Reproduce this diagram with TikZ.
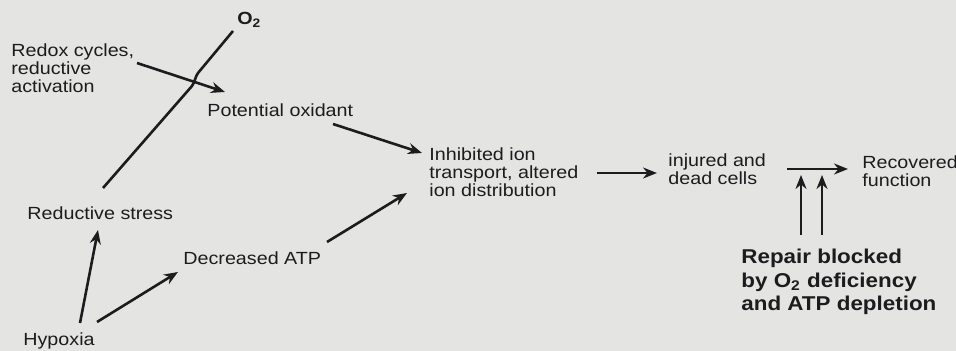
\documentclass[tikz,border=0pt]{standalone}
\usepackage{fontspec}
\setmainfont{Liberation Sans}[FakeStretch=1.12]
\usetikzlibrary{calc,arrows.meta}
\definecolor{paper}{RGB}{228,229,227}
\definecolor{ink}{RGB}{28,28,30}

\begin{document}
\begin{tikzpicture}[x=0.5pt,y=-0.5pt]
\tikzstyle{every node}=[inner sep=0pt,anchor=base west,align=left,text=ink,font=\fontsize{8.8}{9}\selectfont];
\tikzstyle{arr}=[draw=ink,line width=1.3pt,-{Stealth[length=7pt,width=5.5pt]}];
\fill[paper] (0,0) rectangle (956,351);
\useasboundingbox (0,0) rectangle (956,351);
% text (base = last line)
\node (o2) at (237,25) {\textbf{O\textsubscript{2}}};
\node (redox) at (11,93) {Redox cycles,\\reductive\\activation};
\node (pot) at (207,117) {Potential oxidant};
\node (inh) at (429,197) {Inhibited ion\\transport, altered\\ion distribution};
\node (inj) at (668,185) {injured and\\dead cells};
\node (rec) at (862,187) {Recovered\\function};
\node (red) at (27,220) {Reductive stress};
\node (dec) at (183,265) {Decreased ATP};
\node (hyp) at (23,346) {Hypoxia};
\node[font=\fontsize{10}{11.75}\selectfont\bfseries] (rep) at (741,311)
  {Repair blocked\\by O\textsubscript{2} deficiency\\and ATP depletion};
% arrows
\draw[arr] ($(hyp.base west)+(57,-23)$) -- ($(red.base west)+(71,10)$);
\draw[arr] ($(hyp.base west)+(74,-24)$) -- ($(dec.base west)+(-5,7)$);
\draw[draw=ink,line width=1.3pt] ($(red.base west)+(76,-32)$) -- (192,86)
  .. controls (195,82) and (195,77) .. (198,73) -- ($(o2.base west)+(-4,6)$);
\draw[arr] ($(redox.base west)+(126,-30)$) -- ($(pot.base west)+(18,-25)$);
\draw[arr] ($(pot.base west)+(126,7)$) -- ($(inh.base west)+(-7,-44)$);
\draw[arr] ($(dec.base west)+(144,-23)$) -- ($(inh.base west)+(-22,-4)$);
\draw[arr] ($(inh.base west)+(168,-24)$) -- ($(inj.base west)+(-11,-12)$);
\draw[arr] ($(inj.base west)+(119,-16)$) -- ($(rec.base west)+(-14,-18)$);
\draw[arr] ($(rep.base west)+(60,-76)$) -- ($(inj.base west)+(133,-10)$);
\draw[arr] ($(rep.base west)+(81,-76)$) -- ($(inj.base west)+(154,-10)$);
\end{tikzpicture}
\end{document}
